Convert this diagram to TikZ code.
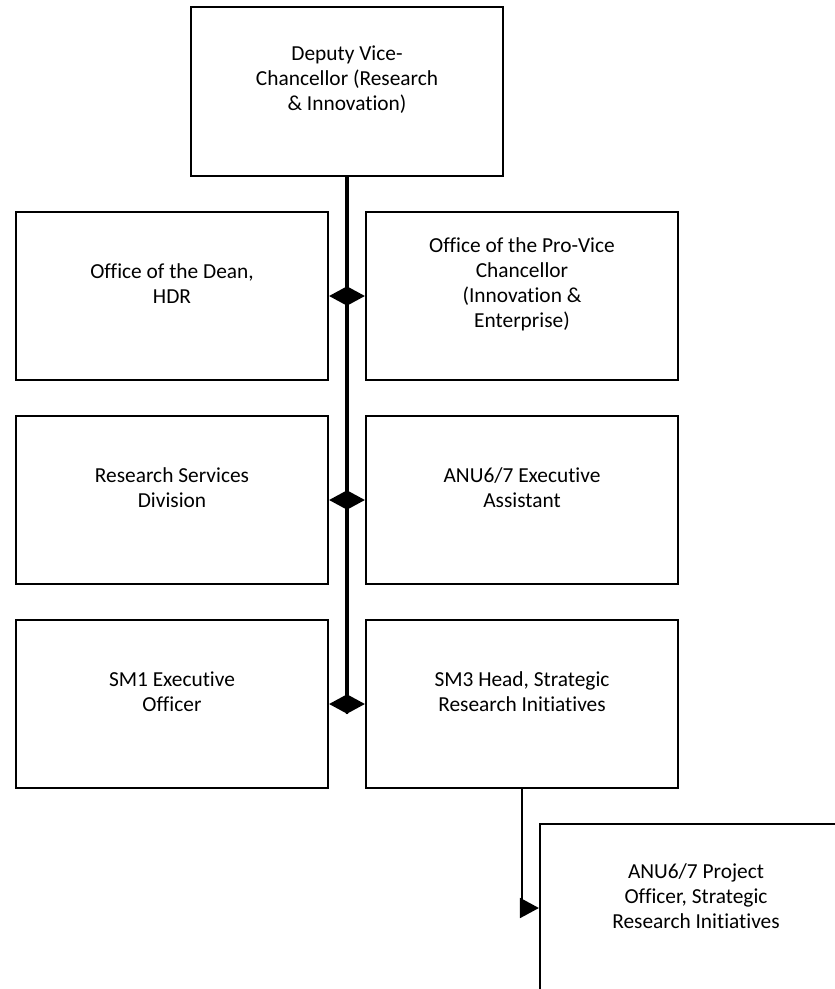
\documentclass[tikz,border=0pt]{standalone}
\usepackage{fontspec}
\setmainfont{Carlito}[Ligatures={NoCommon,NoRare,NoContextual}]
\usetikzlibrary{arrows.meta,positioning}

\tikzset{
  unitbox/.style={draw, line width=1.4pt, minimum width=7.8cm, minimum height=4.2cm, inner sep=0pt},
  unittext/.style={align=center, font=\fontsize{15.2}{17.8}\selectfont},
  feed/.style={line width=2pt, -{Triangle[length=13.5pt,width=14pt]}},
}

\begin{document}
\begin{tikzpicture}[x=0.025cm, y=-0.025cm]

    \useasboundingbox (0,0) rectangle (835,989);

    \def \colL {172}
    \def \colR {522}
    \def \rowA {296}
    \def \rowB {500}
    \def \rowC {704}

    % Top: DVC
    \node[unitbox] (dvc) at (347,91.5) {};
    \node[unittext] (dvclabel) at ([yshift=0.3cm]dvc.center) {Deputy Vice-\\Chancellor (Research\\\& Innovation)};

    % Row 1
    \node[unitbox] (dean) at (\colL,\rowA) {};
    \node[unittext] (deanlabel) at ([yshift=0.3cm]dean.center) {Office of the Dean,\\HDR};
    \node[unitbox] (pvc) at (\colR,\rowA) {};
    \node[unittext] (pvclabel) at ([yshift=0.3cm]pvc.center) {Office of the Pro-Vice\\Chancellor\\(Innovation \&\\Enterprise)};

    % Row 2
    \node[unitbox] (rsd) at (\colL,\rowB) {};
    \node[unittext] (rsdlabel) at ([yshift=0.3cm]rsd.center) {Research Services\\Division};
    \node[unitbox] (ea) at (\colR,\rowB) {};
    \node[unittext] (ealabel) at ([yshift=0.3cm]ea.center) {ANU6/7 Executive\\Assistant};

    % Row 3
    \node[unitbox] (sm1) at (\colL,\rowC) {};
    \node[unittext] (sm1label) at ([yshift=0.3cm]sm1.center) {SM1 Executive\\Officer};
    \node[unitbox] (sm3) at (\colR,\rowC) {};
    \node[unittext] (sm3label) at ([yshift=0.3cm]sm3.center) {SM3 Head, Strategic\\Research Initiatives};

    % Bottom: project officer (runs off the page)
    \node[unitbox] (po) at (696,908) {};
    \node[unittext] (polabel) at ([yshift=0.3cm]po.center) {ANU6/7 Project\\Officer, Strategic\\Research Initiatives};

    % trunk
    \draw[line width=2.8pt] (dvc.south) -- (dvc.south |- sm1.east);
    \draw[feed] (dvc.south |- dean.east) -- (dean.east);
    \draw[feed] (dvc.south |- dean.east) -- (pvc.west);
    \draw[feed] (dvc.south |- rsd.east) -- (rsd.east);
    \draw[feed] (dvc.south |- rsd.east) -- (ea.west);
    \draw[feed] (dvc.south |- sm1.east) -- (sm1.east);
    \draw[feed] (dvc.south |- sm1.east) -- (sm3.west);

    \draw[feed] (sm3.south) |- (po.west);

\end{tikzpicture}
\end{document}
